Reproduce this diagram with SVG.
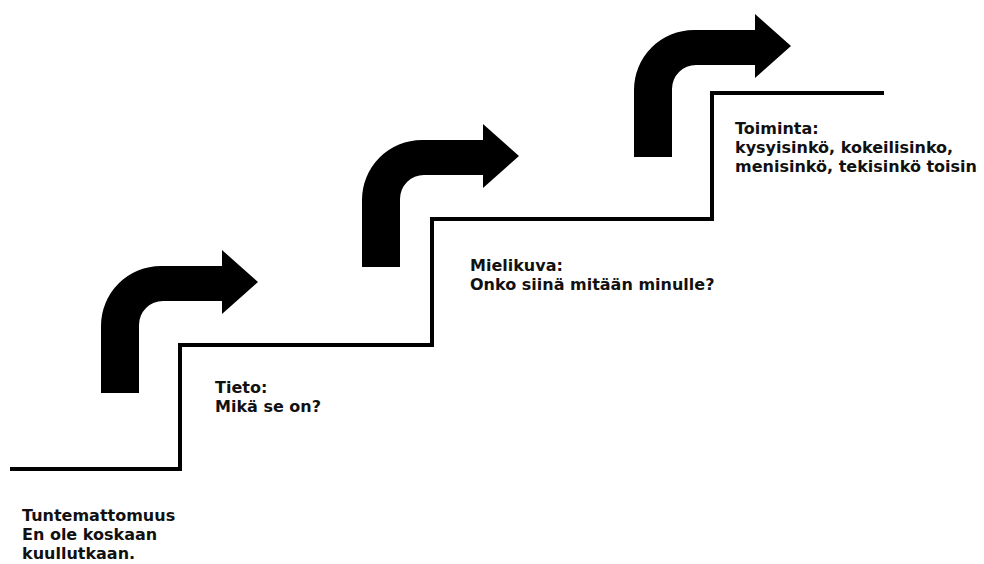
<svg xmlns="http://www.w3.org/2000/svg" width="984" height="564" viewBox="0 0 984 564">
<style>
.stair{fill:none;stroke:#000;stroke-width:4;stroke-linejoin:miter}
.arrow{fill:#000}
.lbl{font-family:"DejaVu Sans","Liberation Sans",sans-serif;font-weight:bold;font-size:16px;fill:#111}
</style>
<defs>
<path id="turn" d="M101,393 L101,326 A60,60 0 0 1 161,266 L222,266 L222,250 L258,282 L222,314 L222,301 L163,301 A24,24 0 0 0 139,325 L139,393 Z"/>
</defs>
<rect width="984" height="564" fill="#fff"/>
<g id="connectors">
<polyline class="stair" points="10,469 180,469 180,345 432,345 432,219 712,219 712,93 884,93"/>
<use href="#turn" class="arrow"/>
<use href="#turn" class="arrow" transform="translate(261,-126)"/>
<use href="#turn" class="arrow" transform="translate(533,-236)"/>
</g>
<g id="tuntemattomuus">
<text class="lbl" x="22" y="521">Tuntemattomuus</text>
<text class="lbl" x="22" y="540">En ole koskaan</text>
<text class="lbl" x="22" y="559">kuullutkaan.</text>
</g>
<g id="tieto">
<text class="lbl" x="215" y="393">Tieto:</text>
<text class="lbl" x="215" y="412">Mikä se on?</text>
</g>
<g id="mielikuva">
<text class="lbl" x="470" y="271">Mielikuva:</text>
<text class="lbl" x="470" y="290">Onko siinä mitään minulle?</text>
</g>
<g id="toiminta">
<text class="lbl" x="735" y="134">Toiminta:</text>
<text class="lbl" x="735" y="153">kysyisinkö, kokeilisinko,</text>
<text class="lbl" x="735" y="172">menisinkö, tekisinkö toisin</text>
</g>
</svg>
